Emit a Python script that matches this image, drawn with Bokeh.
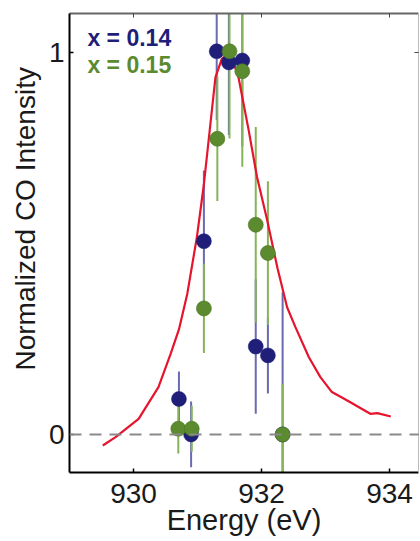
from bokeh.plotting import figure
from bokeh.models import Range1d, LinearAxis, Span, Label, FixedTicker, Title
from bokeh.embed import file_html
from bokeh.resources import INLINE

# theory curve (red)
theory_energy = [929.52, 929.72, 930.08, 930.39, 930.58, 930.71, 930.84, 930.99, 931.10,
                 931.28, 931.38, 931.47, 931.56, 931.64, 931.80, 931.93, 932.09, 932.25,
                 932.40, 932.53, 932.74, 932.92, 933.10, 933.34, 933.70, 933.81, 934.02]
theory_intensity = [-0.029, -0.007, 0.041, 0.124, 0.211, 0.275, 0.368, 0.516, 0.655,
                    0.935, 0.983, 0.995, 0.975, 0.935, 0.796, 0.674, 0.560, 0.435,
                    0.333, 0.281, 0.202, 0.150, 0.111, 0.089, 0.054, 0.056, 0.047]

# x = 0.14 (navy)
energy_014 = [930.71, 930.90, 931.10, 931.30, 931.49, 931.70, 931.91, 932.10, 932.33]
intensity_014 = [0.093, 0.000, 0.506, 1.003, 0.974, 0.979, 0.230, 0.207, 0.000]
error_014 = [0.072, 0.086, 0.185, 0.180, 0.190, 0.225, 0.176, 0.100, 0.372]

# x = 0.15 (green)
energy_015 = [930.70, 930.91, 931.10, 931.31, 931.50, 931.70, 931.91, 932.10, 932.33]
intensity_015 = [0.015, 0.015, 0.330, 0.774, 1.003, 0.951, 0.549, 0.475, 0.000]
error_015 = [0.065, 0.060, 0.117, 0.163, 0.228, 0.250, 0.256, 0.188, 0.133]

x_ticks = [930, 932, 934]
y_ticks = [0, 1]
legend_labels = ["x = 0.14", "x = 0.15"]

NAVY = "#1f1f7a"
NAVY_BAR = "#6a6ab2"
GREEN = "#5b8a2f"
GREEN_BAR = "#86b458"
RED = "#e6142d"
FONT = "Liberation Sans"
TXT = "#1a1a1a"

p = figure(width=420, height=541,
           x_range=Range1d(929.0, 934.453), y_range=Range1d(-0.0996, 1.102),
           output_backend="svg", toolbar_location=None,
           min_border_left=69, min_border_right=2, min_border_top=13, min_border_bottom=69)
p.grid.visible = False
p.outline_line_color = None
p.background_fill_color = "white"
p.border_fill_color = "white"

for ax in p.xaxis:
    ax.ticker = FixedTicker(ticks=x_ticks)
for ax in p.yaxis:
    ax.ticker = FixedTicker(ticks=y_ticks)

for ax in list(p.xaxis) + list(p.yaxis):
    ax.axis_line_color = "black"
    ax.axis_line_width = 2
    ax.major_tick_in = 4
    ax.major_tick_out = 0
    ax.major_tick_line_color = "black"
    ax.major_tick_line_width = 1.5
    ax.minor_tick_line_color = None
    ax.major_label_text_font = FONT
    ax.major_label_text_font_size = "28px"
    ax.major_label_text_color = TXT
p.xaxis.major_label_standoff = 11
p.yaxis.major_label_standoff = 5

p.xaxis.axis_label = "Energy (eV)"
p.xaxis.axis_label_text_font = FONT
p.xaxis.axis_label_text_font_size = "29px"
p.xaxis.axis_label_text_font_style = "normal"
p.xaxis.axis_label_text_color = TXT
p.xaxis.axis_label_standoff = -2

top_axis = LinearAxis(ticker=FixedTicker(ticks=x_ticks), axis_line_color="#666666", axis_line_width=2,
                      major_tick_in=4, major_tick_out=0, major_tick_line_color="#444444",
                      minor_tick_line_color=None, major_label_text_font_size="1px",
                      major_label_overrides={t: "" for t in x_ticks},
                      major_label_standoff=0)
right_axis = LinearAxis(ticker=FixedTicker(ticks=y_ticks), axis_line_color="#bbbbbb", axis_line_width=1,
                        major_tick_in=4, major_tick_out=0, major_tick_line_color="#444444",
                        minor_tick_line_color=None, major_label_text_font_size="1px",
                        major_label_overrides={t: "" for t in y_ticks},
                        major_label_standoff=0)
p.add_layout(top_axis, "above")
p.add_layout(right_axis, "right")

p.add_layout(Title(text="Normalized CO Intensity", align="left", offset=102,
                   text_font=FONT, text_font_size="28px", text_font_style="normal",
                   text_color=TXT), "left")

p.add_layout(Span(location=0, dimension="width", line_color="#8a8a8a", line_width=2, line_dash="12 8"))

# error bars
lo014 = [v - e for v, e in zip(intensity_014, error_014)]
hi014 = [v + e for v, e in zip(intensity_014, error_014)]
lo015 = [v - e for v, e in zip(intensity_015, error_015)]
hi015 = [v + e for v, e in zip(intensity_015, error_015)]
p.segment(x0=energy_014, x1=energy_014, y0=lo014, y1=hi014, line_color=NAVY_BAR, line_width=2)
p.segment(x0=energy_015, x1=energy_015, y0=lo015, y1=hi015, line_color=GREEN_BAR, line_width=2)

p.line(theory_energy, theory_intensity, line_color=RED, line_width=2.2)

p.scatter(energy_014, intensity_014, size=15, fill_color=NAVY, line_color=NAVY, line_width=0.5)
p.scatter(energy_015, intensity_015, size=15, fill_color=GREEN, line_color="#4a7424", line_width=0.6)

# legend text
p.add_layout(Label(x=929.28, y=1.037, text=legend_labels[0], text_color=NAVY, text_font=FONT,
                   text_font_style="bold", text_font_size="23px", text_baseline="middle", text_align="left"))
p.add_layout(Label(x=929.28, y=0.966, text=legend_labels[1], text_color=GREEN, text_font=FONT,
                   text_font_style="bold", text_font_size="23px", text_baseline="middle", text_align="left"))

open("out.html", "w").write(file_html(p, INLINE))
